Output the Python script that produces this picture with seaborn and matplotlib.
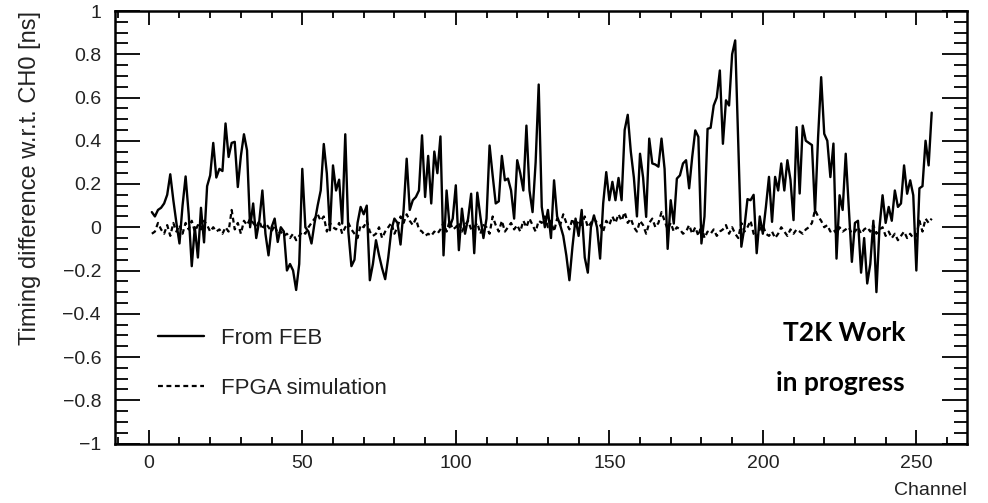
import numpy as np
import pandas as pd
import matplotlib
matplotlib.use("Agg")
import matplotlib.pyplot as plt
import seaborn as sns
from matplotlib.ticker import MultipleLocator, FuncFormatter

# ---------------- data ----------------
channels = list(range(1, 256))

feb = [
    0.07, 0.05, 0.08, 0.09, 0.11, 0.15, 0.245, 0.125, 0.02, -0.075,      # 1-10
    0.10, 0.235, 0.06, -0.18, 0.00, -0.14, 0.09, -0.07, 0.19, 0.24,     # 11-20
    0.39, 0.23, 0.27, 0.26, 0.48, 0.325, 0.39, 0.395, 0.186, 0.33,      # 21-30
    0.43, 0.356, 0.00, 0.11, -0.05, 0.03, 0.17, -0.03, -0.13, 0.00,     # 31-40
    0.04, -0.068, 0.00, -0.02, -0.20, -0.17, -0.20, -0.29, -0.17, 0.27, # 41-50
    0.00, -0.02, -0.075, 0.02, 0.10, 0.17, 0.385, 0.248, -0.014, 0.286, # 51-60
    0.17, 0.22, 0.017, 0.43, -0.02, -0.18, -0.15, 0.02, 0.094, 0.06,    # 61-70
    0.10, -0.245, -0.17, -0.06, -0.13, -0.19, -0.24, -0.14, -0.014, 0.04,  # 71-80
    0.02, -0.08, 0.08, 0.317, 0.08, 0.125, 0.14, 0.17, 0.425, 0.14,     # 81-90
    0.33, 0.11, 0.35, 0.25, 0.42, -0.13, 0.17, 0.00, 0.04, 0.194,       # 91-100
    -0.106, 0.086, -0.03, 0.04, 0.155, -0.12, 0.16, 0.05, -0.05, 0.04,  # 101-110
    0.378, 0.24, 0.11, 0.12, 0.33, 0.217, 0.225, 0.17, 0.04, 0.31,      # 111-120
    0.25, 0.17, 0.47, 0.17, 0.07, 0.30, 0.66, 0.094, 0.00, 0.08,        # 121-130
    -0.05, 0.217, 0.05, 0.01, -0.04, -0.13, -0.245, -0.09, 0.04, -0.04, # 131-140
    0.08, -0.14, -0.21, 0.00, 0.055, 0.00, -0.145, 0.11, 0.255, 0.125,  # 141-150
    0.21, 0.125, 0.228, 0.125, 0.45, 0.52, 0.35, 0.23, 0.05, 0.34,      # 151-160
    0.23, 0.048, 0.41, 0.295, 0.29, 0.28, 0.41, 0.27, -0.10, 0.125,     # 161-170
    0.017, 0.225, 0.24, 0.295, 0.31, 0.18, 0.325, 0.448, 0.418, -0.075, # 171-180
    0.05, 0.455, 0.46, 0.563, 0.60, 0.725, 0.386, 0.587, 0.563, 0.80,   # 181-190
    0.864, 0.39, -0.09, 0.00, 0.13, 0.125, 0.15, -0.12, 0.05, -0.03,    # 191-200
    0.094, 0.233, 0.025, 0.233, 0.17, 0.295, 0.17, 0.31, 0.22, 0.033,   # 201-210
    0.463, 0.156, 0.47, 0.40, 0.39, 0.38, 0.07, 0.417, 0.694, 0.432,    # 211-220
    0.40, 0.232, 0.387, -0.145, 0.148, 0.08, 0.34, 0.09, -0.16, 0.02,   # 221-230
    0.03, -0.21, -0.05, -0.26, -0.17, 0.03, -0.30, 0.00, 0.148, 0.02,   # 231-240
    0.094, 0.03, 0.17, 0.094, 0.11, 0.286, 0.155, 0.217, 0.148, -0.20,  # 241-250
    0.18, 0.19, 0.40, 0.286, 0.53,                                      # 251-255
]

fpga = [
    -0.03, -0.02, 0.02, -0.01, -0.03, 0.01, -0.04, 0.02, -0.02, 0.01,
    -0.03, 0.02, -0.01, 0.03, -0.02, 0.01, -0.01, 0.03, 0.01, -0.02,
    0.00, -0.02, -0.01, -0.03, 0.00, -0.02, 0.08, -0.01, 0.02, -0.03,
    0.03, 0.01, 0.04, 0.02, 0.00, 0.03, -0.01, 0.02, 0.00, -0.02,
    0.01, -0.03, -0.02, -0.04, -0.03, -0.05, -0.03, -0.06, -0.04, -0.02,
    -0.03, 0.00, 0.02, 0.04, 0.06, 0.03, 0.05, -0.02, 0.02, 0.00,
    -0.01, 0.02, -0.03, 0.00, 0.02, -0.01, -0.03, -0.05, 0.01, 0.00,
    0.03, -0.02, -0.04, -0.03, 0.00, -0.05, -0.02, 0.00, 0.02, -0.03,
    0.00, 0.05, 0.02, 0.06, 0.03, 0.01, 0.04, -0.01, -0.02, -0.04,
    -0.03, -0.04, -0.02, -0.03, -0.01, 0.02, -0.02, 0.03, -0.01, 0.00,
    0.02, -0.02, 0.01, 0.03, -0.01, 0.00, 0.02, -0.03, 0.01, 0.00,
    -0.03, 0.05, 0.01, -0.02, 0.03, -0.02, 0.00, 0.02, -0.01, 0.01,
    -0.02, 0.03, 0.00, 0.04, 0.01, -0.02, 0.03, 0.02, 0.05, 0.00,
    0.03, -0.02, 0.04, 0.01, 0.06, 0.02, -0.01, 0.04, 0.00, 0.03,
    0.01, 0.05, 0.00, 0.02, 0.04, 0.02, 0.01, -0.02, 0.03, 0.01,
    0.05, 0.02, 0.06, 0.03, 0.07, 0.02, 0.04, 0.00, -0.02, 0.03,
    0.01, -0.03, 0.02, 0.04, 0.00, 0.02, 0.07, 0.03, -0.01, 0.02,
    -0.02, 0.00, -0.01, -0.03, -0.02, 0.01, -0.03, 0.00, -0.04, 0.01,
    -0.05, -0.02, -0.03, -0.01, -0.04, -0.02, -0.01, 0.01, -0.03, 0.00,
    -0.03, -0.05, 0.02, -0.02, 0.00, 0.03, -0.03, -0.05, -0.01, 0.01,
    -0.03, -0.04, -0.02, -0.05, -0.03, 0.00, -0.02, -0.04, -0.01, -0.03,
    -0.01, -0.02, -0.03, -0.01, 0.00, 0.02, 0.08, 0.05, 0.03, 0.00,
    0.01, -0.02, -0.01, -0.03, 0.00, -0.02, -0.01, 0.00, -0.03, -0.02,
    0.00, -0.03, -0.01, 0.00, -0.02, 0.01, -0.03, -0.01, 0.00, -0.04,
    -0.02, -0.05, -0.03, -0.06, -0.04, -0.02, -0.05, -0.03, -0.05, -0.04,
    0.03, -0.02, 0.04, 0.02, 0.04,
]

labels = ["From FEB", "FPGA simulation"]
x_ticks = [0, 50, 100, 150, 200, 250]
y_ticks = [-1, -0.8, -0.6, -0.4, -0.2, 0, 0.2, 0.4, 0.6, 0.8, 1]

df_feb = pd.DataFrame({"Channel": channels, "value": feb})
df_fpga = pd.DataFrame({"Channel": channels, "value": fpga})

# ---------------- style ----------------
sns.set_theme(style="white")
plt.rcParams["font.family"] = ["Liberation Sans", "DejaVu Sans"]
plt.rcParams["axes.unicode_minus"] = True

W, H = 988, 503
fig = plt.figure(figsize=(W / 100, H / 100), dpi=100)
left, right, top, bottom = 115, 967, 11, 443.5
ax = fig.add_axes([left / W, 1 - bottom / H, (right - left) / W, (bottom - top) / H])

sns.lineplot(data=df_feb, x="Channel", y="value", ax=ax, color="black",
             linewidth=1.7, label=labels[0], legend=False)
sns.lineplot(data=df_fpga, x="Channel", y="value", ax=ax, color="black",
             linewidth=1.6, linestyle=(0, (2.2, 1.6)), label=labels[1], legend=False)

ax.set_xlim(-11, 266.5)
ax.set_ylim(-1, 1)

ax.xaxis.set_major_locator(MultipleLocator(50))
ax.xaxis.set_minor_locator(MultipleLocator(10))
ax.yaxis.set_major_locator(MultipleLocator(0.2))
ax.yaxis.set_minor_locator(MultipleLocator(0.05))
ax.set_xticks(x_ticks)
ax.set_yticks(y_ticks)


def yfmt(v, pos):
    s = f"{v:g}"
    if s == "-0":
        s = "0"
    return s.replace("-", "\u2212")


ax.yaxis.set_major_formatter(FuncFormatter(yfmt))

ax.tick_params(axis="both", which="both", direction="in",
               left=True, bottom=True, top=True, right=True,
               color="black", width=1.3, labelsize=14, labelcolor="#222222")
ax.tick_params(axis="y", which="major", length=18, pad=10)
ax.tick_params(axis="y", which="minor", length=9.5)
ax.tick_params(axis="x", which="major", length=10, pad=8)
ax.tick_params(axis="x", which="minor", length=5)

for sp in ax.spines.values():
    sp.set_linewidth(1.8)
    sp.set_color("black")

ax.set_ylabel("Timing difference w.r.t. CH0 [ns]", fontsize=17, color="#222222", loc="top")
ax.yaxis.set_label_coords(-0.087, 1.0)
ax.set_xlabel("Channel", fontsize=14, color="#222222", loc="right")
ax.xaxis.set_label_coords(1.0, -0.09)

leg = ax.legend(loc="upper left", bbox_to_anchor=(0.05, 0.268), frameon=False,
                fontsize=16, handlelength=2.1, handletextpad=0.75, labelspacing=1.32,
                borderpad=0, borderaxespad=0)
for t in leg.get_texts():
    t.set_color("#222222")

ax.text((905 - left) / (right - left), (bottom - 333) / (bottom - top), "T2K Work",
        transform=ax.transAxes, ha="right", va="center", fontsize=19,
        fontweight="bold", family=["Lato", "DejaVu Sans"], color="black")
ax.text((905 - left) / (right - left), (bottom - 383) / (bottom - top), "in progress",
        transform=ax.transAxes, ha="right", va="center", fontsize=19,
        fontweight="bold", family=["Lato", "DejaVu Sans"], color="black")

fig.savefig("out.png", dpi=100)
